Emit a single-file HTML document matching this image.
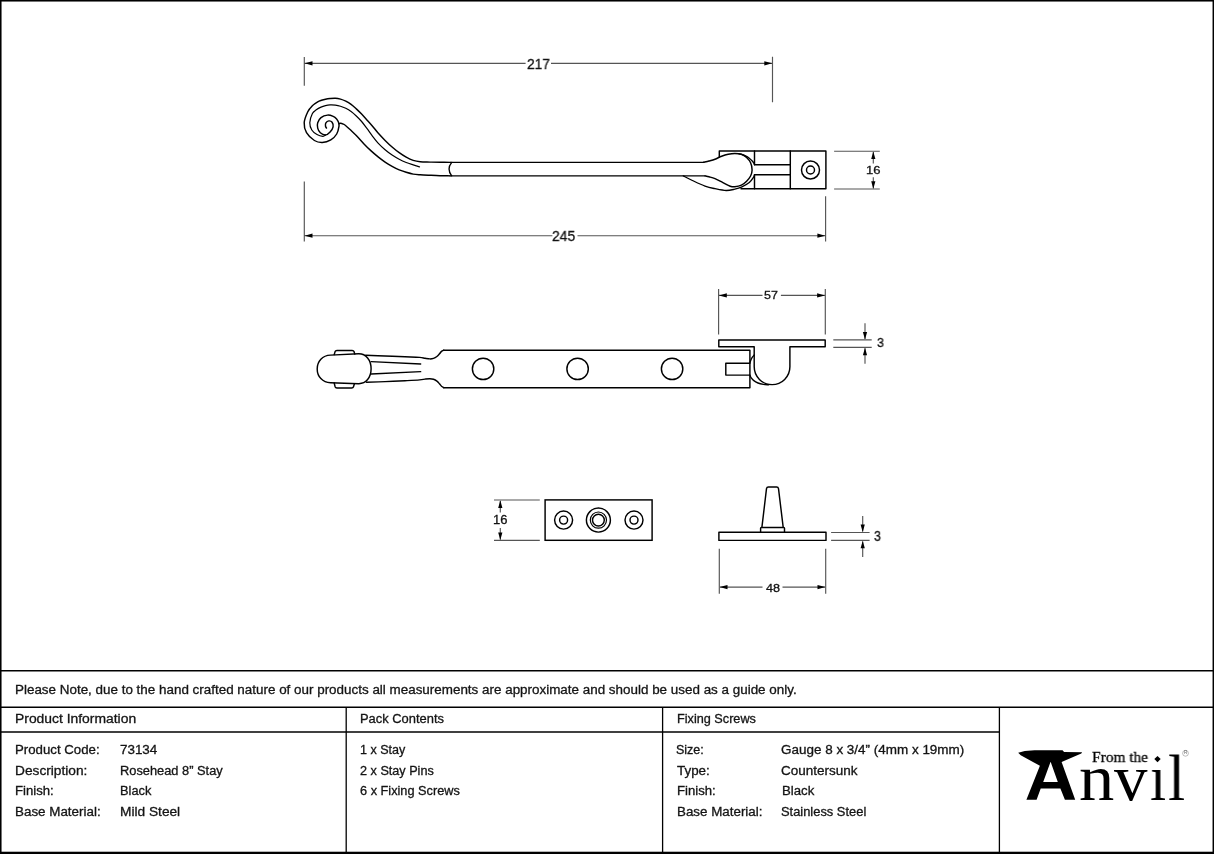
<!DOCTYPE html>
<html>
<head>
<meta charset="utf-8">
<title>Rosehead 8" Stay - 73134</title>
<style>
html,body{margin:0;padding:0;background:#fff;}
body{width:1214px;height:854px;position:relative;overflow:hidden;font-family:"Liberation Sans",sans-serif;color:#111;}
#draw{position:absolute;left:0;top:0;width:1214px;height:854px;}
.t,.d{will-change:transform;-webkit-text-stroke:0.3px #141414;}
.t{position:absolute;white-space:nowrap;font-size:12.5px;line-height:14px;transform-origin:0 50%;color:#141414;}
.d{position:absolute;white-space:nowrap;font-size:12px;line-height:1;transform-origin:0 0;color:#111;}
.serif{font-family:"Liberation Serif",serif;color:#000;}
#lgF{-webkit-text-stroke:0.3px #000;}
#lgn,#lgv,#lgi,#lgl{-webkit-text-stroke:0;}
#lgR{-webkit-text-stroke:0;}
</style>
</head>
<body>
<svg id="draw" width="1214" height="854" viewBox="0 0 1214 854">
<!-- FRAME -->
<g id="frame" fill="none" stroke="#000">
<rect x="0.75" y="0.75" width="1212.6" height="852" stroke-width="1.6"/>
<line x1="0" y1="852.9" x2="1214" y2="852.9" stroke-width="2.2"/>
<line x1="0" y1="670.8" x2="1214" y2="670.8" stroke-width="1.4"/>
<line x1="0" y1="707.3" x2="1214" y2="707.3" stroke-width="1.4"/>
<line x1="0" y1="732" x2="999.3" y2="732" stroke-width="1.4"/>
<line x1="346.2" y1="707.3" x2="346.2" y2="853" stroke-width="1.3"/>
<line x1="662.6" y1="707.3" x2="662.6" y2="853" stroke-width="1.3"/>
<line x1="999.4" y1="707.3" x2="999.4" y2="853" stroke-width="1.3"/>
</g>
<!-- DRAWINGS -->
<g id="view1" fill="none" stroke="#000" stroke-linecap="round" stroke-linejoin="round">
<path stroke-width="1.45" d="M450.50 162.36 C448.75 162.35 443.42 162.34 440.00 162.30 C436.58 162.26 433.30 162.18 430.00 162.10 C426.70 162.02 423.00 162.08 420.20 161.80 C417.40 161.52 415.53 161.17 413.20 160.40 C410.87 159.63 408.53 158.48 406.20 157.20 C403.87 155.92 401.55 154.40 399.20 152.70 C396.85 151.00 394.45 149.05 392.10 147.00 C389.75 144.95 387.43 142.73 385.10 140.40 C382.77 138.07 380.27 135.45 378.10 133.00 C375.93 130.55 373.97 127.88 372.10 125.70 C370.23 123.52 368.65 121.83 366.90 119.90 C365.15 117.97 363.37 115.93 361.60 114.10 C359.83 112.27 358.05 110.52 356.30 108.90 C354.55 107.28 352.85 105.68 351.10 104.40 C349.35 103.12 347.57 102.08 345.80 101.20 C344.03 100.32 342.25 99.60 340.50 99.10 C338.75 98.60 337.05 98.30 335.30 98.20 C333.55 98.10 331.63 98.33 330.00 98.50 C328.37 98.67 326.92 98.90 325.50 99.20 C324.08 99.50 322.80 99.85 321.50 100.30 C320.20 100.75 319.23 100.98 317.70 101.90 C316.17 102.82 313.95 104.17 312.30 105.80 C310.65 107.43 309.15 108.87 307.80 111.70 C306.45 114.53 304.42 119.30 304.20 122.80 C303.98 126.30 304.80 129.75 306.50 132.70 C308.20 135.65 311.77 138.87 314.40 140.50 C317.03 142.13 319.57 142.60 322.30 142.50 C325.03 142.40 328.40 141.32 330.80 139.90 C333.20 138.48 335.33 136.30 336.70 134.00 C338.07 131.70 338.70 128.07 339.00 126.10 C339.30 124.13 338.90 123.40 338.50 122.20 C338.10 121.00 337.48 119.87 336.60 118.90 C335.72 117.93 334.72 117.03 333.20 116.40 C331.68 115.77 329.53 114.90 327.50 115.10 C325.47 115.30 322.63 116.32 321.00 117.60 C319.37 118.88 318.25 121.05 317.70 122.80 C317.15 124.55 317.27 126.45 317.70 128.10 C318.13 129.75 319.00 131.55 320.30 132.70 C321.60 133.85 323.87 135.12 325.50 135.00 C327.13 134.88 328.83 133.37 330.10 132.00 C331.37 130.63 332.77 128.43 333.10 126.80 C333.43 125.17 332.82 123.18 332.10 122.20 C331.38 121.22 329.83 120.80 328.80 120.90 C327.77 121.00 326.45 121.93 325.90 122.80 C325.35 123.67 325.40 125.22 325.50 126.10 C325.60 126.98 326.33 127.77 326.50 128.10"/>
<path stroke-width="1.45" d="M338.80 123.70 C339.08 123.63 339.77 123.23 340.50 123.30 C341.23 123.37 342.32 123.70 343.20 124.10 C344.08 124.50 344.48 124.63 345.80 125.70 C347.12 126.77 349.23 128.75 351.10 130.50 C352.97 132.25 354.85 133.97 357.00 136.20 C359.15 138.43 361.65 141.45 364.00 143.90 C366.35 146.35 368.75 148.73 371.10 150.90 C373.45 153.07 375.77 155.03 378.10 156.90 C380.43 158.77 382.77 160.53 385.10 162.10 C387.43 163.67 389.75 165.00 392.10 166.30 C394.45 167.60 396.85 168.90 399.20 169.90 C401.55 170.90 403.87 171.60 406.20 172.30 C408.53 173.00 410.87 173.68 413.20 174.10 C415.53 174.52 417.40 174.60 420.20 174.80 C423.00 175.00 426.70 175.15 430.00 175.30 C433.30 175.45 436.65 175.61 440.00 175.70 C443.35 175.79 448.42 175.82 450.10 175.85"/>
<path stroke-width="1.2" d="M419.50 166.90 C418.45 166.57 415.42 165.63 413.20 164.90 C410.98 164.17 408.53 163.43 406.20 162.50 C403.87 161.57 401.55 160.53 399.20 159.30 C396.85 158.07 394.45 156.68 392.10 155.10 C389.75 153.52 387.43 151.78 385.10 149.80 C382.77 147.82 380.27 145.57 378.10 143.20 C375.93 140.83 373.97 138.07 372.10 135.60 C370.23 133.13 368.65 130.75 366.90 128.40 C365.15 126.05 363.37 123.57 361.60 121.50 C359.83 119.43 358.05 117.67 356.30 116.00 C354.55 114.33 352.85 112.78 351.10 111.50 C349.35 110.22 347.57 109.18 345.80 108.30 C344.03 107.42 342.25 106.73 340.50 106.20 C338.75 105.67 337.05 105.32 335.30 105.10 C333.55 104.88 331.63 104.82 330.00 104.90 C328.37 104.98 327.00 105.23 325.50 105.60 C324.00 105.97 322.53 106.40 321.00 107.10 C319.47 107.80 317.73 108.72 316.30 109.80 C314.87 110.88 313.48 111.43 312.40 113.60 C311.32 115.77 309.90 120.07 309.80 122.80 C309.70 125.53 310.60 128.03 311.80 130.00 C313.00 131.97 315.15 133.55 317.00 134.60 C318.85 135.65 321.48 136.23 322.90 136.30 C324.32 136.37 325.07 135.22 325.50 135.00"/>
<path stroke-width="1.45" d="M450.5 162.36 H703.6 M450.1 175.85 H705"/>
<path stroke-width="1.3499999999999999" d="M451.7 162.4 Q446.4 169.1 451.7 175.8"/>
<path stroke-width="1.45" d="M703.60 162.30 C704.50 162.08 707.10 161.52 709.00 161.00 C710.90 160.48 712.90 160.00 715.00 159.20 C717.10 158.40 719.40 157.03 721.60 156.20 C723.80 155.37 726.00 154.67 728.20 154.20 C730.40 153.73 732.60 153.40 734.80 153.40 C737.00 153.40 739.43 153.52 741.40 154.20 C743.37 154.88 745.07 156.07 746.60 157.50 C748.13 158.93 749.68 160.72 750.60 162.80 C751.52 164.88 752.10 167.80 752.10 170.00 C752.10 172.20 751.52 174.13 750.60 176.00 C749.68 177.87 748.13 179.67 746.60 181.20 C745.07 182.73 743.37 184.27 741.40 185.20 C739.43 186.13 736.67 186.63 734.80 186.80 C732.93 186.97 732.18 186.90 730.20 186.20 C728.22 185.50 725.43 183.87 722.90 182.60 C720.37 181.33 717.32 179.57 715.00 178.60 C712.68 177.63 710.67 177.25 709.00 176.80 C707.33 176.35 705.67 176.05 705.00 175.90"/>
<path stroke-width="1.3499999999999999" d="M683.30 175.90 C684.82 176.67 688.78 178.80 692.40 180.50 C696.02 182.20 701.23 184.73 705.00 186.10 C708.77 187.47 711.47 187.97 715.00 188.70 C718.53 189.43 722.90 190.42 726.20 190.50 C729.50 190.58 732.27 189.75 734.80 189.20 C737.33 188.65 738.98 188.30 741.40 187.20 C743.82 186.10 747.28 184.25 749.30 182.60 C751.32 180.95 752.63 178.62 753.50 177.30 C754.37 175.98 754.33 175.13 754.50 174.70"/>
<path stroke-width="1.3499999999999999" d="M738.50 153.70 C738.98 153.80 740.23 153.95 741.40 154.30 C742.57 154.65 744.18 155.15 745.50 155.80 C746.82 156.45 748.15 157.30 749.30 158.20 C750.45 159.10 751.63 160.38 752.40 161.20 C753.17 162.02 753.55 162.50 753.90 163.10 C754.25 163.70 754.40 164.52 754.50 164.80"/>
<path stroke-width="1.45" d="M719.3 157.3 V150.9 H825.9 V188.8 H741"/>
<path stroke-width="1.45" d="M754.5 150.9 V164.8 H790.3 M754.5 188.8 V174.7 H790.3 M790.3 150.9 V188.8"/>
<circle cx="810.5" cy="170" r="9.0" stroke-width="1.45"/>
<circle cx="810.5" cy="170" r="4.0" stroke-width="1.45"/>
</g>
<g id="view2" fill="none" stroke="#000" stroke-linecap="round" stroke-linejoin="round">
<path stroke-width="1.45" d="M334.2 354.6 L335.1 351.6 Q335.5 350.4 336.9 350.4 H352.2 Q353.6 350.4 354 351.6 L354.8 354.1"/>
<path stroke-width="1.45" d="M334.2 383.0 L335.1 386.7 Q335.5 387.9 336.9 387.9 H351.7 Q353.1 387.9 353.5 386.7 L354.4 383.8"/>
<path stroke-width="1.45" d="M330.5 355.1 L358.5 353.8 C366 353.6 371.1 360 371.1 368.8 C371.1 377.5 366 383.9 358.5 383.7 L330.5 382.8 C322.5 382.5 317.2 376.5 317.2 368.9 C317.2 361.3 322.5 355.4 330.5 355.1 Z"/>
<path stroke-width="1.45" d="M365.60 355.30 C368.83 355.42 378.43 355.75 385.00 356.00 C391.57 356.25 399.23 356.57 405.00 356.80 C410.77 357.03 416.27 357.15 419.60 357.40 C422.93 357.65 423.28 358.05 425.00 358.30 C426.72 358.55 428.48 358.88 429.90 358.90 C431.32 358.92 432.33 358.80 433.50 358.40 C434.67 358.00 435.90 357.27 436.90 356.50 C437.90 355.73 438.73 354.65 439.50 353.80 C440.27 352.95 440.78 352.00 441.50 351.40 C442.22 350.80 443.42 350.40 443.80 350.20"/>
<path stroke-width="1.45" d="M366.50 382.30 C369.58 382.18 378.58 381.87 385.00 381.60 C391.42 381.33 399.23 380.98 405.00 380.70 C410.77 380.42 416.27 380.17 419.60 379.90 C422.93 379.63 423.28 379.30 425.00 379.10 C426.72 378.90 428.48 378.67 429.90 378.70 C431.32 378.73 432.33 378.90 433.50 379.30 C434.67 379.70 435.90 380.35 436.90 381.10 C437.90 381.85 438.73 382.95 439.50 383.80 C440.27 384.65 440.78 385.57 441.50 386.20 C442.22 386.83 443.42 387.37 443.80 387.60"/>
<path stroke-width="1.3499999999999999" d="M371.1 361.7 L420.7 364 M371.1 374 L420.7 371.7"/>
<path stroke-width="1.45" d="M443.6 350.2 H749.9 V387.7 H443.6"/>
<circle cx="483.1" cy="368.9" r="10.7" stroke-width="1.45"/>
<circle cx="577.6" cy="368.9" r="10.7" stroke-width="1.45"/>
<circle cx="672.1" cy="368.9" r="10.7" stroke-width="1.45"/>
<path stroke-width="1.45" d="M749.9 363.2 H725.8 V375.1 H749.9"/>
<path stroke-width="1.45" d="M718.8 339.9 H825.2 V346.7 H789.9 V366.8 A17.85 17.85 0 0 1 754.2 366.8 V346.7 H718.8 Z"/>
<path stroke-width="1.3499999999999999" d="M754.20 355.00 C753.77 355.55 752.32 357.00 751.60 358.30 C750.88 359.60 750.18 362.05 749.90 362.80"/>
<path stroke-width="1.3499999999999999" d="M749.90 375.20 C750.12 375.63 750.60 376.93 751.20 377.80 C751.80 378.67 752.37 379.53 753.50 380.40 C754.63 381.27 756.35 382.33 758.00 383.00 C759.65 383.67 761.65 384.10 763.40 384.40 C765.15 384.70 767.65 384.73 768.50 384.80"/>
</g>
<g id="view3" fill="none" stroke="#000">
<rect x="545.1" y="499.9" width="107" height="40.4" stroke-width="1.45"/>
<circle cx="563.6" cy="520.1" r="9.0" stroke-width="1.45"/>
<circle cx="563.6" cy="520.1" r="4.0" stroke-width="1.45"/>
<circle cx="634.0" cy="520.1" r="9.0" stroke-width="1.45"/>
<circle cx="634.0" cy="520.1" r="4.0" stroke-width="1.45"/>
<circle cx="598.4" cy="520.1" r="12.0" stroke-width="1.45"/>
<circle cx="598.4" cy="520.1" r="8.1" stroke-width="1.2"/>
<circle cx="598.4" cy="520.1" r="5.9" stroke-width="1.45"/>
</g>
<g id="view4" fill="none" stroke="#000" stroke-linejoin="round">
<rect x="718.9" y="532.3" width="107.1" height="8.1" stroke-width="1.45"/>
<path stroke-width="1.45" d="M760.6 532.3 V528.2 Q760.6 527.4 761.4 527.4 H783.7 Q784.5 527.4 784.5 528.2 V532.3"/>
<path stroke-width="1.45" d="M761.9 527.4 L766.5 488.6 Q766.8 486.9 768.4 486.9 H776.6 Q778.2 486.9 778.5 488.6 L783.2 527.4"/>
</g>
<g id="dims">
<g fill="none" stroke="#555" stroke-width="1.15">
<path d="M304.3 57 V85.8 M772.5 56.7 V102.3 M304.8 63.3 H525.6 M551 63.3 H772"/>
<path d="M304.3 181.5 V241.6 M825.6 196.3 V241.5 M304.8 235.7 H552.4 M577.5 235.7 H825"/>
<path d="M834.1 151.2 H879.8 M834.1 189 H879.8 M873.3 152 V163.5 M873.3 177.2 V188.3"/>
<path d="M718.6 289 V334.5 M825.3 289 V334.5 M719 295.4 H762.5 M780.9 295.4 H825"/>
<path d="M833.3 339.9 H871.7 M833.3 347.4 H871.7 M865 323.3 V339 M865 348.2 V363.8"/>
<path d="M494 500 H539.8 M494 540.4 H539.8 M500.3 501 V512.5 M500.3 527.9 V539.5"/>
<path d="M719.3 548.7 V593.7 M825.7 548.7 V593.7 M720 587.1 H762.5 M782.5 587.1 H825"/>
<path d="M831.1 532.5 H869.6 M831.1 540.4 H869.6 M862.7 515.9 V531.5 M862.7 541.4 V557"/>
</g>
<g fill="#000" stroke="none">
<path d="M304.60 63.30 L312.50 61.20 L312.50 65.40 Z"/>
<path d="M772.20 63.30 L764.30 61.20 L764.30 65.40 Z"/>
<path d="M304.60 235.70 L312.50 233.60 L312.50 237.80 Z"/>
<path d="M825.30 235.70 L817.40 233.60 L817.40 237.80 Z"/>
<path d="M873.30 151.50 L871.20 159.10 L875.40 159.10 Z"/>
<path d="M873.30 188.80 L871.20 181.20 L875.40 181.20 Z"/>
<path d="M718.90 295.40 L726.80 293.30 L726.80 297.50 Z"/>
<path d="M825.00 295.40 L817.10 293.30 L817.10 297.50 Z"/>
<path d="M865.00 339.60 L862.90 332.00 L867.10 332.00 Z"/>
<path d="M865.00 347.70 L862.90 355.30 L867.10 355.30 Z"/>
<path d="M500.30 500.30 L498.20 507.90 L502.40 507.90 Z"/>
<path d="M500.30 540.10 L498.20 532.50 L502.40 532.50 Z"/>
<path d="M719.60 587.10 L727.50 585.00 L727.50 589.20 Z"/>
<path d="M825.40 587.10 L817.50 585.00 L817.50 589.20 Z"/>
<path d="M862.70 532.20 L860.60 524.60 L864.80 524.60 Z"/>
<path d="M862.70 540.70 L860.60 548.30 L864.80 548.30 Z"/>
</g>
</g>
<g id="logo" fill="#000" stroke="none">
<path fill-rule="evenodd" d="M1018.2 752.7 L1024.8 751.1 L1034.6 750.2 L1062.5 750.2 L1064.1 752.1 L1082.1 752.3 L1081.3 753.5 L1061.6 762.1 L1075.2 799.7 L1064.9 799.7 L1060.4 788.4 L1040.7 788.4 L1036.6 799.7 L1026.4 799.7 L1039.9 765.8 L1020.7 755.2 Z M1050.6 761.7 L1043.2 782 L1057.8 782 Z"/>
<path d="M1157.5 755.9 L1160.7 759.1 L1157.5 762.3 L1154.3 759.1 Z"/>
<circle cx="1185.5" cy="753.3" r="2.9" fill="none" stroke="#888" stroke-width="0.55"/>
</g>
<g id="end"></g>
</svg>


<!-- DIMENSION TEXT -->
<div class="d" id="d217" style="left:527.49px;top:56.95px;font-size:14.05px;transform:scaleX(0.9819);">217</div>
<div class="d" id="d245" style="left:552.42px;top:228.60px;font-size:14.56px;transform:scaleX(0.9524);">245</div>
<div class="d" id="d16a" style="left:865.94px;top:164.70px;font-size:11.35px;transform:scaleX(1.1471);">16</div>
<div class="d" id="d57" style="left:764.46px;top:288.68px;font-size:11.63px;transform:scaleX(1.0739);">57</div>
<div class="d" id="d3a" style="left:876.98px;top:335.74px;font-size:13.45px;transform:scaleX(0.9335);">3</div>
<div class="d" id="d16b" style="left:492.85px;top:513.60px;font-size:12.24px;transform:scaleX(1.0625);">16</div>
<div class="d" id="d48" style="left:765.76px;top:581.90px;font-size:11.66px;transform:scaleX(1.0865);">48</div>
<div class="d" id="d3b" style="left:874.29px;top:528.59px;font-size:14.09px;transform:scaleX(0.8884);">3</div>


<!-- LOGO TEXT -->
<div class="d serif" id="lgn" style="left:1079.0px;top:746px;font-size:65.6px;transform:scaleX(1.076);">n</div>
<div class="d serif" id="lgv" style="left:1114.0px;top:746px;font-size:65.6px;transform:scaleX(1.02);">v</div>
<div class="d serif" id="lgi" style="left:1149.5px;top:746px;font-size:65.6px;transform:scaleX(0.878);">&#305;</div>
<div class="d serif" id="lgl" style="left:1168.2px;top:746px;font-size:65.6px;transform:scaleX(0.94);">l</div>
<div class="d serif" id="lgF" style="left:1091.85px;top:748.70px;font-size:15.61px;transform:scaleX(0.9873);">From the</div>
<div class="d" id="lgR" style="left:1183.6px;top:750.9px;font-size:4.6px;color:#666;">R</div>

<!-- TABLE TEXT -->
<div class="t" id="note" style="left:14.73px;top:682.8px;transform:scaleX(1.0737);">Please Note, due to the hand crafted nature of our products all measurements are approximate and should be used as a guide only.</div>

<div class="t" id="h1" style="left:14.69px;top:712.2px;transform:scaleX(1.1103);">Product Information</div>
<div class="t" id="h2" style="left:360.07px;top:712.2px;transform:scaleX(1.0325);">Pack Contents</div>
<div class="t" id="h3" style="left:676.79px;top:712.2px;transform:scaleX(1.0145);">Fixing Screws</div>

<div class="t" id="a1" style="left:14.84px;top:743.2px;transform:scaleX(1.059);">Product Code:</div>
<div class="t" id="a2" style="left:14.8px;top:763.8px;transform:scaleX(1.0969);">Description:</div>
<div class="t" id="a3" style="left:14.85px;top:784.3px;transform:scaleX(1.0514);">Finish:</div>
<div class="t" id="a4" style="left:14.83px;top:804.6px;transform:scaleX(1.0718);">Base Material:</div>
<div class="t" id="b1" style="left:120.03px;top:743.2px;transform:scaleX(1.0727);">73134</div>
<div class="t" id="b2" style="left:120.07px;top:763.8px;transform:scaleX(1.0263);">Rosehead 8” Stay</div>
<div class="t" id="b3" style="left:120.28px;top:784.3px;transform:scaleX(1.0241);">Black</div>
<div class="t" id="b4" style="left:120.0px;top:804.6px;transform:scaleX(1.0962);">Mild Steel</div>

<div class="t" id="c1" style="left:360.3px;top:743.2px;transform:scaleX(1.0045);">1 x Stay</div>
<div class="t" id="c2" style="left:360.09px;top:763.8px;transform:scaleX(1.0113);">2 x Stay Pins</div>
<div class="t" id="c3" style="left:360.08px;top:784.3px;transform:scaleX(1.0198);">6 x Fixing Screws</div>

<div class="t" id="e1" style="left:676.1px;top:743.2px;transform:scaleX(1.0);">Size:</div>
<div class="t" id="e2" style="left:677.3px;top:763.8px;transform:scaleX(1.0724);">Type:</div>
<div class="t" id="e3" style="left:676.65px;top:784.3px;transform:scaleX(1.0514);">Finish:</div>
<div class="t" id="e4" style="left:676.63px;top:804.6px;transform:scaleX(1.0692);">Base Material:</div>
<div class="t" id="f1" style="left:781.32px;top:743.2px;transform:scaleX(1.0768);">Gauge 8 x 3/4” (4mm x 19mm)</div>
<div class="t" id="f2" style="left:781.32px;top:763.8px;transform:scaleX(1.0797);">Countersunk</div>
<div class="t" id="f3" style="left:781.54px;top:784.3px;transform:scaleX(1.0552);">Black</div>
<div class="t" id="f4" style="left:781.37px;top:804.6px;transform:scaleX(1.0309);">Stainless Steel</div>
</body>
</html>
